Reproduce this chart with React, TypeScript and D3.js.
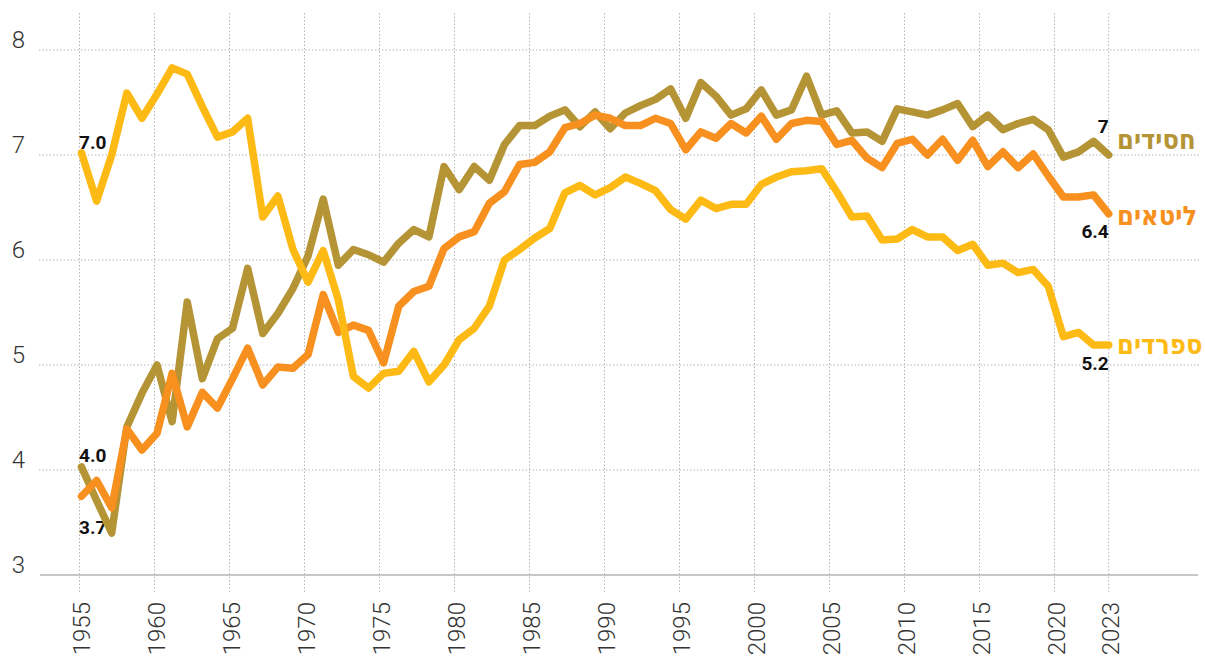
import React from "react";
import * as d3 from "d3";

const years: number[] = d3.range(1955, 2024);

const hasidim: number[] = [
  4.03, 3.71, 3.4, 4.41, 4.73, 5.0, 4.46, 5.6, 4.87, 5.25,
  5.35, 5.92, 5.3, 5.49, 5.73, 6.04, 6.58, 5.95, 6.1, 6.05,
  5.98, 6.16, 6.29, 6.22, 6.89, 6.67, 6.89, 6.76, 7.1, 7.28,
  7.28, 7.37, 7.43, 7.27, 7.41, 7.25, 7.4, 7.47, 7.53, 7.63,
  7.35, 7.69, 7.56, 7.38, 7.44, 7.62, 7.38, 7.43, 7.75, 7.38,
  7.42, 7.21, 7.22, 7.13, 7.44, 7.41, 7.38, 7.43, 7.49, 7.27,
  7.38, 7.24, 7.3, 7.34, 7.24, 6.98, 7.03, 7.13, 7.0,
];

const litvaks: number[] = [
  3.75, 3.9, 3.64, 4.39, 4.19, 4.35, 4.92, 4.41, 4.74, 4.59,
  4.87, 5.16, 4.81, 4.98, 4.97, 5.1, 5.67, 5.31, 5.38, 5.33,
  5.02, 5.56, 5.7, 5.75, 6.11, 6.22, 6.27, 6.54, 6.65, 6.91,
  6.93, 7.03, 7.26, 7.3, 7.38, 7.35, 7.28, 7.28, 7.35, 7.3,
  7.05, 7.22, 7.16, 7.3, 7.21, 7.37, 7.15, 7.3, 7.33, 7.32,
  7.1, 7.14, 6.97, 6.88, 7.11, 7.15, 7.0, 7.15, 6.95, 7.14,
  6.89, 7.03, 6.88, 7.01, 6.8, 6.6, 6.6, 6.62, 6.44,
];

const sephardim: number[] = [
  7.02, 6.56, 7.0, 7.59, 7.35, 7.58, 7.83, 7.77, 7.46, 7.17,
  7.22, 7.35, 6.41, 6.61, 6.1, 5.79, 6.09, 5.62, 4.89, 4.78,
  4.92, 4.94, 5.13, 4.84, 5.0, 5.24, 5.35, 5.56, 6.0, 6.1,
  6.21, 6.3, 6.64, 6.71, 6.62, 6.69, 6.79, 6.73, 6.66, 6.48,
  6.39, 6.57, 6.49, 6.53, 6.53, 6.72, 6.79, 6.84, 6.85, 6.87,
  6.65, 6.41, 6.42, 6.19, 6.2, 6.29, 6.22, 6.22, 6.09, 6.15,
  5.95, 5.97, 5.88, 5.91, 5.75, 5.27, 5.31, 5.19, 5.19,
];

const seriesNames: string[] = ["חסידים", "ליטאים", "ספרדים"];
const seriesColors: string[] = ["#B59436", "#F7901E", "#FDBA14"];
const seriesValues: number[][] = [hasidim, litvaks, sephardim];

const yTicks: number[] = [3, 4, 5, 6, 7, 8];
const xTickYears: number[] = [1955, 1960, 1965, 1970, 1975, 1980, 1985, 1990, 1995, 2000, 2005, 2010, 2015, 2020, 2023];

const startLabels: string[] = ["4.0", "3.7", "7.0"]; // hasidim, litvaks, sephardim at 1955
const endLabels: string[] = ["7", "6.4", "5.2"];

const W = 1205;
const H = 657;

export default function App() {
  const y = d3.scaleLinear().domain([3, 8]).range([575, 50]);
  const xData = d3.scaleLinear().domain([1955, 2023]).range([81.5, 1108.7]);
  const xGrid = d3.scaleLinear().domain([1955, 2020]).range([79.5, 1054.5]);
  const xTick = (t: number) => (t <= 2020 ? xGrid(t) : xData(t));

  const line = d3
    .line<number>()
    .x((_, i) => xData(years[i]))
    .y((v) => y(v))
    .curve(d3.curveLinear);

  const numFont = "Roboto, 'DejaVu Sans', sans-serif";

  const startOffsets = [-5, 38, -4];
  const endOffsets = [-22, 24, 25];
  const nameOffsets = [-6, 11, 9];

  return (
    <svg
      width={W}
      height={H}
      style={{ position: "absolute", left: 0, top: 0, background: "#fff" }}
      fontFamily={numFont}
    >
      {yTicks.filter((t) => t > 3).map((t) => (
        <line
          key={"hg" + t}
          x1={39}
          x2={1200}
          y1={y(t)}
          y2={y(t)}
          stroke="#b5b5b5"
          strokeWidth={1}
          strokeDasharray="1.5,2"
        />
      ))}
      {xTickYears.map((t) => (
        <line
          key={"vg" + t}
          x1={xTick(t)}
          x2={xTick(t)}
          y1={13}
          y2={592}
          stroke="#b5b5b5"
          strokeWidth={1}
          strokeDasharray="1.5,2"
        />
      ))}
      <line x1={40} x2={1198} y1={y(3)} y2={y(3)} stroke="#c9c5c9" strokeWidth={2} />

      {yTicks.map((t) => (
        <text
          key={"yl" + t}
          x={25}
          y={y(t) - 2}
          textAnchor="end"
          fontSize={24}
          fontWeight={300}
          fill="#333"
        >
          {t}
        </text>
      ))}

      {xTickYears.map((t) => (
        <text
          key={"xl" + t}
          transform={`translate(${xTick(t) + 1.5},602) rotate(-90)`}
          textAnchor="end"
          dy="0.36em"
          fontSize={24}
          fontWeight={300}
          fill="#333"
        >
          {t}
        </text>
      ))}

      {seriesValues.map((vals, i) => (
        <text
          key={"sl" + i}
          x={xData(years[0]) - 2.5}
          y={y(vals[0]) + startOffsets[i]}
          fontSize={19}
          fontWeight={700}
          fill="#111"
        >
          {startLabels[i]}
        </text>
      ))}

      {seriesValues.map((vals, i) => (
        <path
          key={"ln" + i}
          d={line(vals) || ""}
          fill="none"
          stroke={seriesColors[i]}
          strokeWidth={7.5}
          strokeLinejoin="round"
          strokeLinecap="round"
        />
      ))}

      {seriesValues.map((vals, i) => (
        <text
          key={"el" + i}
          x={xData(years[years.length - 1])}
          y={y(vals[vals.length - 1]) + endOffsets[i]}
          textAnchor="end"
          fontSize={19}
          fontWeight={700}
          fill="#111"
        >
          {endLabels[i]}
        </text>
      ))}

      {seriesValues.map((vals, i) => (
        <text
          key={"nm" + i}
          x={1117}
          y={y(vals[vals.length - 1]) + nameOffsets[i]}
          textAnchor="start"
          fontSize={27}
          fontWeight={700}
          fill={seriesColors[i]}
          fontFamily="'DejaVu Sans Condensed', 'DejaVu Sans', sans-serif"
        >
          {seriesNames[i]}
        </text>
      ))}
    </svg>
  );
}
